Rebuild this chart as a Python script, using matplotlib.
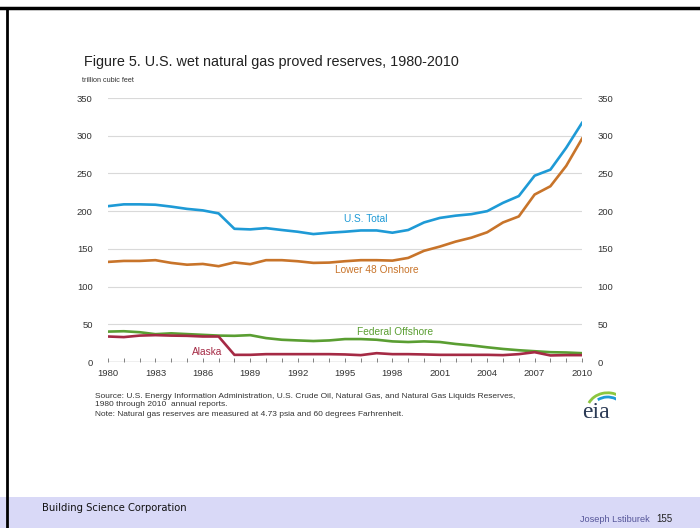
import numpy as np
import matplotlib.pyplot as plt
from matplotlib.patches import Rectangle, Arc

years = list(range(1980, 2011))

us_total = [206.6, 209, 209, 208.5, 206, 203, 201, 197, 176.6, 175.8,
            177.5, 175, 172.7, 169.6, 171.4, 172.7, 174.4, 174.4, 171.4, 175,
            185, 191, 194, 196, 200, 211, 220, 247, 255, 284, 317]
lower48 = [132.7, 134, 134, 135, 131.4, 129, 130, 127, 132, 129.7,
           135, 135, 133.6, 131.4, 131.8, 133.6, 135, 135, 134.4, 138,
           147.4, 153, 159.6, 164.8, 172, 185, 193, 222, 233, 260, 296]
fed_offshore = [40.3, 40.8, 39.5, 36.9, 38, 37, 36, 35, 34.7, 35.6,
                31.7, 29.5, 28.6, 27.8, 28.6, 30.4, 30.4, 29.5, 27.3, 26.5,
                27.3, 26.5, 23.9, 22, 19.5, 17.3, 15.6, 14.3, 13, 12.6, 11.7]
alaska = [33.8, 33, 35, 35.6, 35, 34.7, 33.8, 33.8, 9.5, 9.5,
          10.4, 10.4, 10.4, 10.4, 10.4, 10, 9.1, 11.7, 10.4, 10.4,
          10, 9.5, 9.5, 9.5, 9.5, 9.1, 10.4, 13, 8.7, 9.1, 9.1]

yticks = [0, 50, 100, 150, 200, 250, 300, 350]
xticks = list(range(1980, 2011, 3))

c_total = '#1e9ad6'
c_l48 = '#c8742a'
c_fed = '#5a9e32'
c_ak = '#a52a45'

plt.rcParams['font.family'] = ['Liberation Sans', 'DejaVu Sans']

fig = plt.figure(figsize=(7, 5.28), dpi=100)
W, H = 700, 528

def fx(px):
    return px / W

def fy(py):
    return 1 - py / H

# slide frame and footer band
fig.patches.append(Rectangle((0, 0), 1, fy(497), transform=fig.transFigure,
                             facecolor='#d9d9f7', edgecolor='none', zorder=0))
fig.add_artist(plt.Line2D([0, 1], [fy(8), fy(8)], color='black', lw=2.5))
fig.add_artist(plt.Line2D([fx(7), fx(7)], [0, fy(8)], color='black', lw=2.0))

ax = fig.add_axes([fx(108), fy(362), fx(582) - fx(108), fy(98) - fy(362)])
ax.plot(years, us_total, color=c_total, lw=1.9)
ax.plot(years, lower48, color=c_l48, lw=1.9)
ax.plot(years, fed_offshore, color=c_fed, lw=1.9)
ax.plot(years, alaska, color=c_ak, lw=1.9)

ax.set_xlim(1980, 2010)
ax.set_ylim(0, 350)
for v in yticks[1:]:
    ax.axhline(v, color='#d9d9d9', lw=0.8, zorder=0)
ax.axhline(0, color='#808080', lw=0.9, zorder=1)
for s in ax.spines.values():
    s.set_visible(False)

ax.set_yticks(yticks)
ax.tick_params(axis='y', length=0, labelsize=6.8, colors='#333333', pad=11,
               labelright=True)
ax.set_xticks(xticks)
ax.set_xticks(years, minor=True)
ax.tick_params(axis='x', which='both', direction='in', length=3, width=0.7,
               color='#808080', labelsize=6.8, labelcolor='#333333', pad=5)

lbl = dict(fontsize=7.3, ha='center', va='center')
ax.text(1996.3, 190, 'U.S. Total', color=c_total, **lbl)
ax.text(1997.0, 122, 'Lower 48 Onshore', color=c_l48, **lbl)
ax.text(1998.2, 40, 'Federal Offshore', color=c_fed, **lbl)
ax.text(1986.3, 13.5, 'Alaska', color=c_ak, **lbl)

fig.text(fx(84), fy(62), 'Figure 5. U.S. wet natural gas proved reserves, 1980-2010',
         fontsize=10.4, color='#222222', va='center')
fig.text(fx(82), fy(80), 'trillion cubic feet', fontsize=5.2, color='#333333', va='center')

note = dict(fontsize=6.0, color='#333333', va='center')
fig.text(fx(95), fy(396), 'Source: U.S. Energy Information Administration, U.S. Crude Oil, '
         'Natural Gas, and Natural Gas Liquids Reserves,', **note)
fig.text(fx(95), fy(405), '1980 through 2010  annual reports.', **note)
fig.text(fx(95), fy(415), 'Note: Natural gas reserves are measured at 4.73 psia and '
         '60 degrees Farhrenheit.', **note)

# eia logo
fig.text(fx(596), fy(413), 'eia', fontsize=17, family=['Liberation Serif', 'DejaVu Serif'],
         color='#2b3a55', ha='center', va='center')
logo = fig.add_axes([fx(578), fy(418), fx(38), fy(390) - fy(418)])
logo.set_xlim(0, 1)
logo.set_ylim(0, 1)
logo.axis('off')
logo.add_patch(Arc((0.78, 0.25), 1.1, 1.3, theta1=60, theta2=150, color='#8cc63f', lw=2))
logo.add_patch(Arc((0.78, 0.2), 0.9, 1.1, theta1=0, theta2=120, color='#1e9ad6', lw=2))

fig.text(fx(42), fy(508), 'Building Science Corporation', fontsize=7.2,
         family=['DejaVu Sans'], color='#111111', va='center')
fig.text(fx(650), fy(519), 'Joseph Lstiburek', fontsize=6.6, color='#555599',
         ha='right', va='center')
fig.text(fx(656), fy(519), '155', fontsize=7, color='#222222', va='center')

fig.savefig('out.png', dpi=100)
